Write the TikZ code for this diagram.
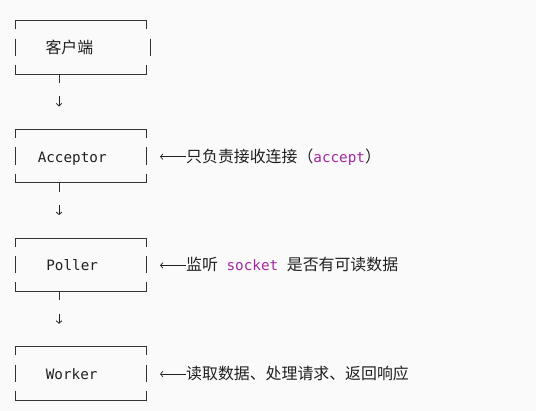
\documentclass[tikz,border=0pt]{standalone}
\usepackage{fontspec}
\setmonofont{DejaVu Sans Mono}
\newfontfamily\cjk{Noto Sans CJK SC}
\usetikzlibrary{arrows.meta,calc}
\definecolor{bgwhite}{HTML}{FAFAFA}
\definecolor{boxgray}{HTML}{333333}
\definecolor{textblack}{HTML}{202020}
\definecolor{codepurple}{HTML}{A626A4}
\newcommand\codeword[1]{{\ttfamily\fontsize{14.3}{16}\selectfont\color{codepurple}#1}}

\begin{document}
\begin{tikzpicture}[x=1pt,y=-1pt,
box line/.style={draw=boxgray,line width=0.8pt},
box text/.style={font=\ttfamily\fontsize{14.3}{16}\selectfont,
  text=textblack,inner sep=0pt,anchor=base},
note text/.style={font=\cjk\fontsize{15.9}{18}\selectfont,
  text=textblack,inner sep=0pt,anchor=base west},
note arrow/.style={draw=textblack,line width=0.7pt,
  -{Straight Barb[length=2.5pt,width=5.5pt]}},
down arrow/.style={draw=textblack,line width=0.8pt,
  -{Straight Barb[length=2.5pt,width=5.5pt]}}]
\useasboundingbox (0,0) rectangle (536,411);
\fill[bgwhite] (0,0) rectangle (536,411);

% the four ascii boxes
\foreach \t/\xr/\nm in {20.7/150.5/client,129.3/146/acceptor,
                        238/146/poller,346.7/146/worker}
{
\draw[box line] (15.3,\t+8.6) -- (15.3,\t) -- (146,\t) -- (146,\t+8.6);
\draw[box line] (15.3,\t+18) -- (15.3,\t+35.3);
\draw[box line] (\xr,\t+18) -- (\xr,\t+35.3);
\draw[box line] (15.3,\t+44.3) -- (15.3,\t+53.3) -- (146,\t+53.3) -- (146,\t+44.3);
\coordinate (\nm-stem) at (59,\t+53.3);
\coordinate (\nm-from) at (59,\t+75.8);
\coordinate (\nm-to) at (59,\t+85.8);
\coordinate (\nm-in) at (160,\t+27.4);
}

\node[box text,font=\cjk\fontsize{15.9}{18}\selectfont] (client) at (69.4,53.7) {客户端};
\node[box text] (acceptor) at (72.2,162.3) {Acceptor};
\node[box text] (poller) at (72.2,271) {Poller};
\node[box text] (worker) at (71.7,379.5) {Worker};

% stems and arrows between boxes
\foreach \nm in {client,acceptor,poller}
{
\draw[box line] (\nm-stem) -- ++(0,9);
\draw[down arrow] (\nm-from) -- (\nm-to);
}

\node[note text] (acceptnote) at (186,162.3) {只负责接收连接（\codeword{accept}）};
\node[note text] (pollnote) at (186,271) {监听\codeword{~socket~}是否有可读数据};
\node[note text] (worknote) at (186,379.5) {读取数据、处理请求、返回响应};

\draw[note arrow] (acceptnote.west |- acceptor-in) -- (acceptor-in);
\draw[note arrow] (pollnote.west |- poller-in) -- (poller-in);
\draw[note arrow] (worknote.west |- worker-in) -- (worker-in);
\end{tikzpicture}
\end{document}
